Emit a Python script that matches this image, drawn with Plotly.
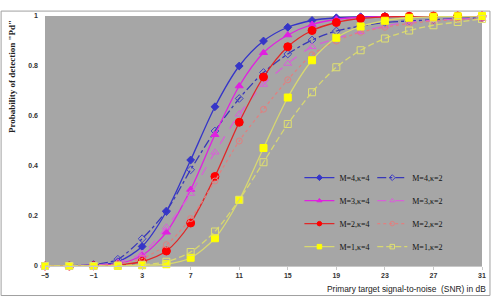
import plotly.graph_objects as go

# ---------------- data ----------------
snr = [-5, -3, -1, 1, 3, 5, 7, 9, 11, 13, 15, 17, 19, 21, 23, 25, 27, 29, 31]

pd_m4_k4 = [0, 0, 0.003, 0.017, 0.078, 0.218, 0.424, 0.637, 0.80, 0.90, 0.955, 0.982, 0.993, 0.997, 0.999, 1, 1, 1, 1]
pd_m4_k2 = [0, 0.001, 0.006, 0.027, 0.109, 0.22, 0.385, 0.54, 0.67, 0.774, 0.848, 0.904, 0.94, 0.96, 0.974, 0.98, 0.985, 0.99, 0.992]
pd_m3_k4 = [0, 0, 0.002, 0.009, 0.042, 0.135, 0.306, 0.525, 0.72, 0.853, 0.924, 0.966, 0.987, 0.995, 0.998, 1, 1, 1, 1]
pd_m3_k2 = [0, 0.001, 0.004, 0.015, 0.05, 0.155, 0.29, 0.455, 0.607, 0.726, 0.81, 0.877, 0.91, 0.937, 0.96, 0.975, 0.983, 0.988, 0.99]
pd_m2_k4 = [0, 0, 0.001, 0.004, 0.018, 0.06, 0.172, 0.358, 0.575, 0.756, 0.877, 0.942, 0.974, 0.99, 0.996, 0.999, 1, 1, 1]
pd_m2_k2 = [0, 0, 0.002, 0.008, 0.03, 0.085, 0.19, 0.34, 0.5, 0.627, 0.745, 0.845, 0.9, 0.935, 0.955, 0.97, 0.98, 0.985, 0.99]
pd_m1_k4 = [0, 0, 0, 0, 0.003, 0.007, 0.033, 0.111, 0.264, 0.472, 0.674, 0.823, 0.913, 0.958, 0.981, 0.993, 0.997, 0.999, 1]
pd_m1_k2 = [0, 0, 0, 0.002, 0.005, 0.017, 0.056, 0.138, 0.265, 0.415, 0.568, 0.695, 0.795, 0.863, 0.91, 0.942, 0.963, 0.976, 0.988]

x_ticks = [-5, -1, 3, 7, 11, 15, 19, 23, 27, 31]
y_ticks = [0, 0.2, 0.4, 0.6, 0.8, 1]
y_tick_text = ["0", "0.2", "0.4", "0.6", "0.8", "1"]

series = [
    ("M=4,κ=4", pd_m4_k4, "#3535C8", "solid", "diamond", 6, "#3535C8", "legend"),
    ("M=4,κ=2", pd_m4_k2, "#3838B8", "dashdot", "diamond-open", 6, "#4040C8", "legend2"),
    ("M=3,κ=4", pd_m3_k4, "#E020E0", "solid", "triangle-up", 7, "#E020E0", "legend"),
    ("M=3,κ=2", pd_m3_k2, "#D860D8", "dash", "triangle-up-open", 7, "#D860D8", "legend2"),
    ("M=2,κ=4", pd_m2_k4, "#E02828", "solid", "circle", 8, "#FF0000", "legend"),
    ("M=2,κ=2", pd_m2_k2, "#E08080", "3px,3px", "circle-open", 6, "#E08080", "legend2"),
    ("M=1,κ=4", pd_m1_k4, "#D8D870", "solid", "square", 7, "#FFFF00", "legend"),
    ("M=1,κ=2", pd_m1_k2, "#D8D870", "6px,3px", "square-open", 7, "#E0E070", "legend2"),
]

W, H = 498, 298
L, R, T, B = 45, 15, 12, 32
pw, ph = W - L - R, H - T - B


def px2x(px):
    return (px - L) / pw


def px2y(py):
    return (H - B - py) / ph


fig = go.Figure()
for name, vals, lc, dash, sym, size, mc, leg in series:
    fig.add_trace(go.Scatter(
        x=snr, y=vals, name=name, mode="lines+markers",
        line=dict(color=lc, width=1.3, dash=dash, shape="spline", smoothing=0.8),
        marker=dict(symbol=sym, size=size, color=mc, line=dict(color=mc, width=1)),
        showlegend=False, cliponaxis=False, legendgroup=name,
    ))

# legend entries (smaller markers, as in the reference legend)
for name, vals, lc, dash, sym, size, mc, leg in series:
    fig.add_trace(go.Scatter(
        x=[None], y=[None], name=name, mode="lines+markers",
        line=dict(color=lc, width=1.3, dash=dash),
        marker=dict(symbol=sym, size=4.5, color=mc, line=dict(color=mc, width=1)),
        legend=leg, legendgroup=name, showlegend=True,
    ))

legend_common = dict(
    xanchor="left", yanchor="top", bgcolor="rgba(0,0,0,0)",
    font=dict(family="Liberation Serif, Times New Roman, serif", size=8, color="#111"),
    tracegroupgap=4, itemwidth=30,
)

fig.update_layout(
    width=W, height=H,
    margin=dict(l=L, r=R, t=T, b=B, pad=0),
    paper_bgcolor="white",
    plot_bgcolor="#A6A6A6",
    showlegend=True,
    legend=dict(x=px2x(300), y=px2y(161.5), **legend_common),
    legend2=dict(x=px2x(373), y=px2y(161.5), **legend_common),
    xaxis=dict(
        range=[-5, 31], tickvals=x_ticks, showgrid=False, zeroline=False,
        showline=True, linecolor="#C8C8C8", linewidth=1,
        ticks="outside", ticklen=3, tickcolor="#C8C8C8",
        tickfont=dict(family="Liberation Sans, Arial", size=7, color="#333", weight="bold"),
    ),
    yaxis=dict(
        range=[0, 1], tickvals=y_ticks, ticktext=y_tick_text, showgrid=False, zeroline=False,
        showline=False, ticks="", ticklabelstandoff=6,
        tickfont=dict(family="Liberation Sans, Arial", size=7, color="#333", weight="bold"),
    ),
    shapes=[dict(
        type="rect", xref="paper", yref="paper", layer="below",
        x0=px2x(1), x1=px2x(491), y0=px2y(296), y1=px2y(7),
        line=dict(color="#A0A0A0", width=1), fillcolor="rgba(0,0,0,0)",
    )],
    annotations=[
        dict(text="Probability of detection \"Pd\"", xref="paper", yref="paper",
             x=px2x(12), y=px2y(74), textangle=-90, showarrow=False,
             xanchor="center", yanchor="middle",
             font=dict(family="Liberation Serif, Times New Roman, serif", size=9, color="#222", weight="bold")),
        dict(text="Primary target signal-to-noise  (SNR) in dB", xref="paper", yref="paper",
             x=px2x(489), y=px2y(289), showarrow=False, xanchor="right", yanchor="middle",
             font=dict(family="Liberation Sans, Arial", size=8.4, color="#222")),
    ],
)

fig.write_html("out.html")
